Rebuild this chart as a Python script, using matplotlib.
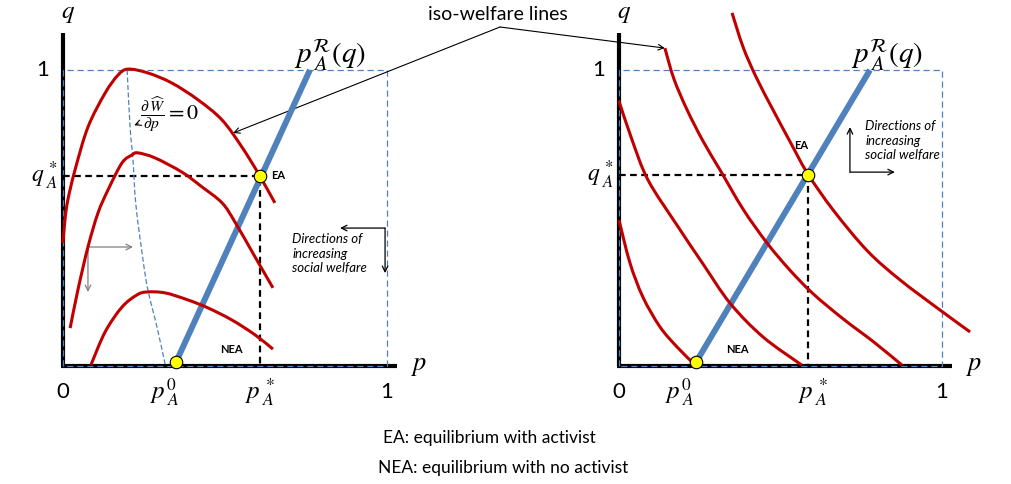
import matplotlib.pyplot as plt
from matplotlib.path import Path
from matplotlib.patches import PathPatch

plt.rcParams['font.family'] = ['Lato', 'DejaVu Sans']
plt.rcParams['mathtext.fontset'] = 'stix'

red = "#C00000"
blue = "#4F81BD"

# ---- left panel (p / q units) ----
left_iso_1_p = [0.0, 0.006, 0.015, 0.037, 0.077, 0.130, 0.170, 0.201, 0.262, 0.336, 0.417, 0.491, 0.552, 0.602, 0.654]
left_iso_1_q = [0.416, 0.493, 0.561, 0.662, 0.807, 0.922, 0.983, 1.003, 0.990, 0.956, 0.899, 0.831, 0.740, 0.652, 0.551]
left_iso_2_p = [0.022, 0.046, 0.077, 0.108, 0.139, 0.182, 0.213, 0.231, 0.284, 0.367, 0.429, 0.491, 0.531, 0.593, 0.648]
left_iso_2_q = [0.128, 0.257, 0.402, 0.517, 0.595, 0.686, 0.713, 0.720, 0.703, 0.655, 0.605, 0.551, 0.486, 0.368, 0.264]
left_iso_3_p = [0.086, 0.130, 0.182, 0.228, 0.259, 0.315, 0.386, 0.448, 0.522, 0.593, 0.648]
left_iso_3_q = [0.003, 0.115, 0.199, 0.240, 0.250, 0.247, 0.223, 0.196, 0.155, 0.105, 0.057]
foc_p = [0.198, 0.207, 0.216, 0.225, 0.247, 0.262, 0.290, 0.315]
foc_q = [1.0, 0.807, 0.696, 0.544, 0.358, 0.257, 0.132, 0.007]
left_react_p = [0.349, 0.762]
left_react_q = [0.0135, 1.0]
left_ea = (0.608, 0.642)
left_nea = (0.349, 0.0135)

# ---- right panel ----
right_iso_1_p = [0.0, 0.034, 0.074, 0.127, 0.180, 0.234]
right_iso_1_q = [0.493, 0.348, 0.233, 0.132, 0.064, 0.005]
right_iso_2_p = [0.0, 0.040, 0.090, 0.180, 0.260, 0.344, 0.446, 0.566]
right_iso_2_q = [0.895, 0.765, 0.628, 0.475, 0.345, 0.212, 0.098, 0.003]
right_iso_3_p = [0.142, 0.170, 0.211, 0.260, 0.313, 0.384, 0.458, 0.529, 0.600, 0.693, 0.790, 0.876]
right_iso_3_q = [1.074, 0.970, 0.865, 0.760, 0.662, 0.530, 0.416, 0.324, 0.245, 0.160, 0.080, 0.003]
right_iso_4_p = [0.350, 0.384, 0.425, 0.477, 0.530, 0.584, 0.663, 0.768, 0.870, 0.994, 1.087]
right_iso_4_q = [1.193, 1.078, 0.975, 0.865, 0.757, 0.650, 0.527, 0.390, 0.291, 0.189, 0.115]
right_react_p = [0.238, 0.777]
right_react_q = [0.012, 1.0]
right_ea = (0.584, 0.644)
right_nea = (0.238, 0.012)


def smooth_curve(ax, xs, ys, **kw):
    # Catmull-Rom through the read points, handed to matplotlib as cubic Bezier segments
    pts = list(zip(xs, ys))
    verts = [pts[0]]
    codes = [Path.MOVETO]
    for i in range(len(pts) - 1):
        p0 = pts[i - 1] if i > 0 else pts[i]
        p1 = pts[i]
        p2 = pts[i + 1]
        p3 = pts[i + 2] if i + 2 < len(pts) else pts[i + 1]
        c1 = (p1[0] + (p2[0] - p0[0]) / 6, p1[1] + (p2[1] - p0[1]) / 6)
        c2 = (p2[0] - (p3[0] - p1[0]) / 6, p2[1] - (p3[1] - p1[1]) / 6)
        verts += [c1, c2, p2]
        codes += [Path.CURVE4] * 3
    ax.add_patch(PathPatch(Path(verts, codes), fill=False, **kw))


fig = plt.figure(figsize=(10.11, 4.84), dpi=100)
ax1 = fig.add_axes([0, 0, 0.5, 1])
ax2 = fig.add_axes([0.5, 0, 0.5, 1])
ax1.set_xlim(-63 / 324, (505.5 - 63) / 324)
ax2.set_xlim((505.5 - 619) / 323, (1011 - 619) / 323)
for ax in (ax1, ax2):
    ax.set_ylim((366 - 484) / 296, 366 / 296)
    ax.axis("off")


def frame(ax, react_p, react_q, ea, nea):
    ax.plot([0, 0], [0, 1.125], color="black", lw=3, solid_capstyle="butt", zorder=2)
    ax.plot([-0.006, 1.031], [0, 0], color="black", lw=3, solid_capstyle="butt", zorder=2)
    ax.plot([0, 0, 1, 1, 0], [0, 1, 1, 0, 0], color=blue, lw=0.9, ls=(0, (5, 3)), zorder=3)
    ax.plot(react_p, react_q, color=blue, lw=4.3, solid_capstyle="butt", zorder=4)
    ax.plot([0, ea[0], ea[0]], [ea[1], ea[1], 0], color="black", lw=1.6, ls=(0, (3, 2)), zorder=3)
    ax.plot([ea[0], nea[0]], [ea[1], nea[1]], ls="none", marker="o", ms=9,
            mfc="#FFFF00", mec="black", mew=0.8, zorder=6)
    ax.text(0.015, 1.19, "$q$", fontsize=18, ha="center", va="center")
    ax.text(-0.062, 1.0, "1", fontsize=16, ha="center", va="center")
    ax.text(0, -0.088, "0", fontsize=16, ha="center", va="center")
    ax.text(1.0, -0.088, "1", fontsize=16, ha="center", va="center")
    ax.text(1.1, 0.0, "$p$", fontsize=19, ha="center", va="center")
    ax.text(-0.015, ea[1], "$q^{\\,*}_{\\;A}$", fontsize=17, ha="right", va="center")


frame(ax1, left_react_p, left_react_q, left_ea, left_nea)
frame(ax2, right_react_p, right_react_q, right_ea, right_nea)

for p, q in [(left_iso_1_p, left_iso_1_q), (left_iso_2_p, left_iso_2_q), (left_iso_3_p, left_iso_3_q)]:
    smooth_curve(ax1, p, q, color=red, lw=2.2, zorder=5)
for p, q in [(right_iso_1_p, right_iso_1_q), (right_iso_2_p, right_iso_2_q),
             (right_iso_3_p, right_iso_3_q), (right_iso_4_p, right_iso_4_q)]:
    smooth_curve(ax2, p, q, color=red, lw=2.2, zorder=5)
smooth_curve(ax1, foc_p, foc_q, color=blue, lw=0.9, ls=(0, (4, 2)), zorder=3)

# reaction function labels
ax1.text(0.825, 1.05, "$p^{\\mathcal{R}}_{\\;A}(q)$", fontsize=21, ha="center", va="center")
ax2.text(0.831, 1.05, "$p^{\\mathcal{R}}_{\\;A}(q)$", fontsize=21, ha="center", va="center")

# tick-like labels on p axis
ax1.text(0.315, -0.088, "$p^{0}_{\\;A}$", fontsize=18, ha="center", va="center")
ax1.text(0.608, -0.088, "$p^{\\,*}_{\\;A}$", fontsize=18, ha="center", va="center")
ax2.text(0.19, -0.088, "$p^{0}_{\\;A}$", fontsize=18, ha="center", va="center")
ax2.text(0.60, -0.088, "$p^{\\,*}_{\\;A}$", fontsize=18, ha="center", va="center")

# equilibrium markers
ax1.text(left_ea[0] + 0.035, left_ea[1], "EA", fontsize=8, fontweight="bold", ha="left", va="center")
ax1.text(0.52, 0.055, "NEA", fontsize=8, fontweight="bold", ha="center", va="center")
ax2.text(right_ea[0] - 0.02, right_ea[1] + 0.1, "EA", fontsize=8, fontweight="bold", ha="center", va="center")
ax2.text(0.366, 0.057, "NEA", fontsize=8, fontweight="bold", ha="center", va="center")

# foc label
ax1.text(0.33, 0.85, "$\\frac{\\partial\\,\\widehat{W}}{\\partial p}=0$", fontsize=16, ha="center", va="center")
ax1.annotate("", xy=(0.212, 0.81), xytext=(0.24, 0.822),
             arrowprops=dict(arrowstyle="->", lw=0.8, color="black"))

# directions of increasing welfare
arr = dict(arrowstyle="->", lw=0.9, color="black", shrinkA=0, shrinkB=0)
ax1.annotate("", xy=(0.855, 0.466), xytext=(0.994, 0.466), arrowprops=arr)
ax1.annotate("", xy=(0.994, 0.314), xytext=(0.994, 0.466), arrowprops=arr)
ax1.text(0.707, 0.449, "Directions of\nincreasing\nsocial welfare", fontsize=9.5,
         style="italic", ha="left", va="top", linespacing=1.25)
grey = dict(arrowstyle="->", lw=0.9, color="#808080", shrinkA=0, shrinkB=0)
ax1.annotate("", xy=(0.216, 0.402), xytext=(0.077, 0.402), arrowprops=grey)
ax1.annotate("", xy=(0.077, 0.250), xytext=(0.077, 0.402), arrowprops=grey)

ax2.annotate("", xy=(0.715, 0.807), xytext=(0.715, 0.655), arrowprops=arr)
ax2.annotate("", xy=(0.854, 0.655), xytext=(0.715, 0.655), arrowprops=arr)
ax2.text(0.762, 0.831, "Directions of\nincreasing\nsocial welfare", fontsize=9.5,
         style="italic", ha="left", va="top", linespacing=1.25)

# iso-welfare callout
fig.text(498 / 1011, 1 - 15 / 484, "iso-welfare lines", fontsize=14, ha="center", va="center")
apex = (500 / 1011, 1 - 27 / 484)
callout = dict(arrowstyle="->", lw=0.8, color="black", shrinkA=0, shrinkB=0)
ax1.annotate("", xy=(0.525, 0.787), xycoords=ax1.transData, xytext=apex,
             textcoords="figure fraction", arrowprops=callout, annotation_clip=False)
ax1.annotate("", xy=(0.142, 1.074), xycoords=ax2.transData, xytext=apex,
             textcoords="figure fraction", arrowprops=callout, annotation_clip=False)

# legend
fig.text(383 / 1011, 1 - 438 / 484, "EA: equilibrium with activist", fontsize=12.5, ha="left", va="center")
fig.text(378 / 1011, 1 - 468 / 484, "NEA: equilibrium with no activist", fontsize=12.5, ha="left", va="center")

fig.savefig("out.png", dpi=100)
